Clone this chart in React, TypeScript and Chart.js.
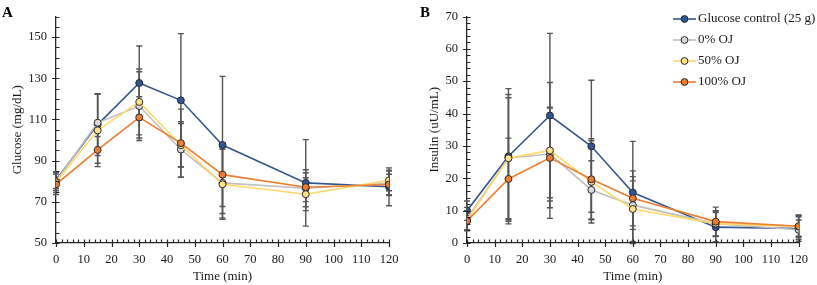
import React, { useEffect, useRef } from "react";
import { Chart, registerables } from "chart.js";

Chart.register(...registerables);

const times = [0, 15, 30, 45, 60, 90, 120];
const seriesNames = ["Glucose control (25 g)", "0% OJ", "50% OJ", "100% OJ"];

const glucoseControl = [80.5, 107.5, 127.7, 119.3, 97.6, 79.2, 77.3];
const glucose0 = [80, 108.4, 116.5, 95.4, 79.2, 76.6, 79];
const glucose50 = [79.5, 104.7, 118.5, 97.5, 78.5, 73.7, 80.4];
const glucose100 = [78.5, 95.2, 111, 98.5, 83.2, 77.1, 78.4];
const glucoseControlSD = [4, 15, 18, 32.4, 33.3, 21, 9.2];
const glucose0SD = [4.5, 14, 16.7, 13.5, 17, 9, 6];
const glucose50SD = [5, 17.6, 16, 10.5, 17, 8, 5];
const glucose100SD = [5, 6.5, 10, 16.5, 15.5, 7, 5];

const insulinControl = [10, 26.8, 39.4, 29.9, 15.6, 4.9, 4.5];
const insulin0 = [7.5, 26.3, 27.5, 16.4, 11.7, 6, 4.1];
const insulin50 = [7, 26.2, 28.6, 18.9, 10.5, 6, 5.1];
const insulin100 = [6.8, 19.8, 26.3, 19.7, 13.8, 6.6, 5.2];
const insulinControlSD = [3, 20.9, 25.4, 20.4, 15.8, 4.5, 4];
const insulin0SD = [3.5, 19.6, 14.5, 9, 7.5, 4, 3];
const insulin50SD = [3, 18.7, 21, 12.7, 10, 3.8, 3];
const insulin100SD = [3, 12.6, 15.4, 12.5, 8.5, 4.5, 3.5];

const timeTicks = [0, 10, 20, 30, 40, 50, 60, 70, 80, 90, 100, 110, 120];
const glucoseTicks = [50, 70, 90, 110, 130, 150];
const insulinTicks = [0, 10, 20, 30, 40, 50, 60, 70];

const lineColors = ["#34578C", "#BFBFBF", "#FFD966", "#ED7D31"];
const fillColors = ["#2F5597", "#D9D9D9", "#FFE38A", "#ED7D31"];
const FONT = "'Liberation Serif', 'Times New Roman', serif";
const TEXT = "#1a1a1a";
const AXIS = "#262626";

const errorBars = {
  id: "errorBars",
  beforeDatasetsDraw(chart: any) {
    const { ctx, scales } = chart;
    const x = scales.x, y = scales.y;
    ctx.save();
    ctx.strokeStyle = "#555555";
    ctx.lineWidth = 1.4;
    const cap = 3;
    chart.data.datasets.forEach((ds: any) => {
      ds.data.forEach((p: any, i: number) => {
        const e = ds.errors[i];
        const px = x.getPixelForValue(p.x);
        const t = y.getPixelForValue(p.y + e);
        const b = y.getPixelForValue(p.y - e);
        ctx.beginPath();
        ctx.moveTo(px, t); ctx.lineTo(px, b);
        ctx.moveTo(px - cap, t); ctx.lineTo(px + cap, t);
        ctx.moveTo(px - cap, b); ctx.lineTo(px + cap, b);
        ctx.stroke();
      });
    });
    ctx.restore();
  },
};

const axisTicks = {
  id: "axisTicks",
  afterDraw(chart: any, _a: any, opts: any) {
    const { ctx, scales } = chart;
    const x = scales.x, y = scales.y;
    ctx.save();
    ctx.strokeStyle = AXIS;
    ctx.lineWidth = 1.2;
    const ay = y.getPixelForValue(y.min);
    const ax = x.getPixelForValue(x.min);
    ctx.beginPath();
    for (let v = x.min; v <= x.max + 1e-9; v += opts.xMinor) {
      const px = Math.round(x.getPixelForValue(v)) + 0.5;
      const major = Math.abs(v % opts.xMajor) < 1e-6;
      ctx.moveTo(px, ay - 3.5);
      ctx.lineTo(px, major ? ay + 4 : ay);
    }
    for (let v = y.min; v <= y.max + 1e-9; v += opts.yMinor) {
      const py = Math.round(y.getPixelForValue(v)) + 0.5;
      const major = opts.yMajorList.includes(v);
      ctx.moveTo(major ? ax - 4 : ax, py);
      ctx.lineTo(ax + 3.5, py);
    }
    ctx.stroke();
    ctx.fillStyle = "#000";
    ctx.font = `bold 15px ${FONT}`;
    ctx.textBaseline = "alphabetic";
    ctx.fillText(opts.letter, opts.letterX, 17);
    ctx.restore();
  },
};

const customLegend = {
  id: "customLegend",
  afterDraw(chart: any, _a: any, opts: any) {
    if (!opts.show) return;
    const { ctx } = chart;
    ctx.save();
    ctx.font = `13px ${FONT}`;
    ctx.textBaseline = "middle";
    chart.data.datasets.forEach((ds: any, i: number) => {
      const yy = opts.y0 + i * opts.dy;
      ctx.strokeStyle = ds.borderColor;
      ctx.lineWidth = 1.6;
      ctx.beginPath();
      ctx.moveTo(opts.x0, yy);
      ctx.lineTo(opts.x0 + 23, yy);
      ctx.stroke();
      ctx.beginPath();
      ctx.arc(opts.x0 + 11.5, yy, 3.4, 0, Math.PI * 2);
      ctx.fillStyle = ds.pointBackgroundColor;
      ctx.fill();
      ctx.strokeStyle = ds.pointBorderColor;
      ctx.lineWidth = 1;
      ctx.stroke();
      ctx.fillStyle = TEXT;
      ctx.fillText(ds.label, opts.x0 + 25, yy);
    });
    ctx.restore();
  },
};

function makeDatasets(values: number[][], errs: number[][]) {
  return values.map((vals, k) => ({
    label: seriesNames[k],
    data: times.map((t, i) => ({ x: t, y: vals[i] })),
    errors: errs[k],
    borderColor: lineColors[k],
    borderWidth: 1.6,
    pointBackgroundColor: fillColors[k],
    pointBorderColor: "#2b2b2b",
    pointBorderWidth: 1,
    pointRadius: 3.5,
    tension: 0,
    order: 4 - k,
  }));
}

type PanelProps = {
  width: number;
  values: number[][];
  errs: number[][];
  yMin: number;
  yMax: number;
  yTicks: number[];
  yMinor: number;
  yTitle: string;
  yWidth: number;
  yTitlePad: number;
  padRight: number;
  letter: string;
  letterX: number;
  legend: boolean;
};

function Panel(p: PanelProps) {
  const ref = useRef<HTMLCanvasElement>(null);
  useEffect(() => {
    const chart = new Chart(ref.current as HTMLCanvasElement, {
      type: "line",
      data: { datasets: makeDatasets(p.values, p.errs) as any },
      options: {
        animation: false,
        responsive: false,
        events: [],
        layout: { padding: { left: 0, top: 6, right: p.padRight, bottom: 0 } },
        plugins: {
          legend: { display: false },
          tooltip: { enabled: false },
          axisTicks: { xMinor: 2, xMajor: 10, yMinor: p.yMinor, yMajorList: p.yTicks, letter: p.letter, letterX: p.letterX },
          customLegend: { show: p.legend, x0: 263, y0: 19, dy: 21 },
        } as any,
        scales: {
          x: {
            type: "linear",
            min: 0,
            max: 120,
            afterBuildTicks: (s: any) => { s.ticks = timeTicks.map((v) => ({ value: v })); },
            afterFit: (s: any) => { s.height = 42; },
            grid: { display: false, drawTicks: false },
            border: { display: true, color: AXIS, width: 1.3 },
            ticks: { color: TEXT, font: { family: FONT, size: 12.5 }, padding: 9, maxRotation: 0, autoSkip: false },
            title: { display: true, text: "Time (min)", color: TEXT, font: { family: FONT, size: 13 }, padding: { top: 0, bottom: 1 } },
          },
          y: {
            type: "linear",
            min: p.yMin,
            max: p.yMax,
            afterBuildTicks: (s: any) => { s.ticks = p.yTicks.map((v) => ({ value: v })); },
            afterFit: (s: any) => { s.width = p.yWidth; },
            grid: { display: false, drawTicks: false },
            border: { display: true, color: AXIS, width: 1.3 },
            ticks: { color: TEXT, font: { family: FONT, size: 12.5 }, padding: 9, autoSkip: false },
            title: { display: true, text: p.yTitle, color: TEXT, font: { family: FONT, size: 13 }, padding: { top: p.yTitlePad, bottom: 0 } },
          },
        },
      },
      plugins: [errorBars, axisTicks, customLegend],
    });
    return () => chart.destroy();
  }, []);
  return <canvas ref={ref} width={p.width} height={285} style={{ width: p.width, height: 285, display: "block" }} />;
}

export default function App() {
  return (
    <div style={{ position: "fixed", left: 0, top: 0, width: 817, height: 285, background: "#fff", display: "flex" }}>
      <Panel
        width={410}
        values={[glucoseControl, glucose0, glucose50, glucose100]}
        errs={[glucoseControlSD, glucose0SD, glucose50SD, glucose100SD]}
        yMin={50}
        yMax={160}
        yTicks={glucoseTicks}
        yMinor={5}
        yTitle="Glucose (mg/dL)"
        yWidth={56}
        yTitlePad={10}
        padRight={21}
        letter="A"
        letterX={2}
        legend={false}
      />
      <Panel
        width={407}
        values={[insulinControl, insulin0, insulin50, insulin100]}
        errs={[insulinControlSD, insulin0SD, insulin50SD, insulin100SD]}
        yMin={0}
        yMax={70}
        yTicks={insulinTicks}
        yMinor={2}
        yTitle="Insulin (uU/mL)"
        yWidth={57}
        yTitlePad={17}
        padRight={12}
        letter="B"
        letterX={10}
        legend={true}
      />
    </div>
  );
}
